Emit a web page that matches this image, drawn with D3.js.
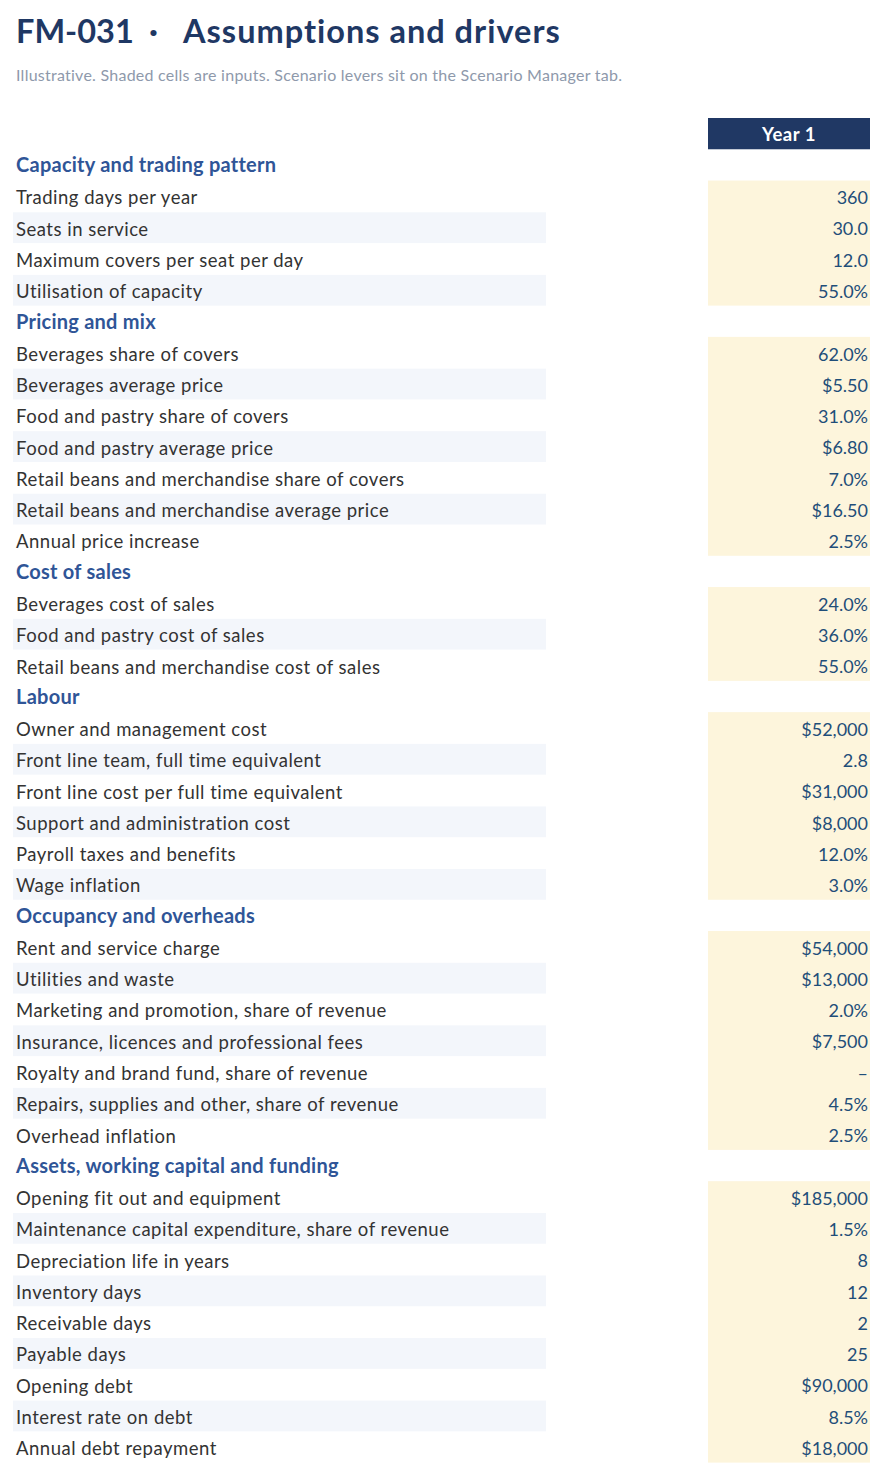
<!DOCTYPE html>
<html><head><meta charset="utf-8">
<script src="https://cdn.jsdelivr.net/npm/d3@7"></script>
<style>
html,body{margin:0;padding:0;background:#fff;}
svg{display:block;font-family:Lato,"Noto Sans",sans-serif;}
</style></head>
<body>
<svg id="c" width="886" height="1474"></svg>
<script>
const titleCode = "FM-031";
const titleSep = "·";
const titleText = "Assumptions and drivers";
const subtitle = "Illustrative. Shaded cells are inputs. Scenario levers sit on the Scenario Manager tab.";
const columnLabels = ["Year 1"];

const sections = [
  "Capacity and trading pattern",
  "Pricing and mix",
  "Cost of sales",
  "Labour",
  "Occupancy and overheads",
  "Assets, working capital and funding"
];
const capacityLabels = ["Trading days per year","Seats in service","Maximum covers per seat per day","Utilisation of capacity"];
const capacityValues = [360, 30.0, 12.0, 0.55];
const capacityFormats = ["int","dec1","dec1","pct1"];

const pricingLabels = ["Beverages share of covers","Beverages average price","Food and pastry share of covers","Food and pastry average price","Retail beans and merchandise share of covers","Retail beans and merchandise average price","Annual price increase"];
const pricingValues = [0.62, 5.50, 0.31, 6.80, 0.07, 16.50, 0.025];
const pricingFormats = ["pct1","usd2","pct1","usd2","pct1","usd2","pct1"];

const cosLabels = ["Beverages cost of sales","Food and pastry cost of sales","Retail beans and merchandise cost of sales"];
const cosValues = [0.24, 0.36, 0.55];
const cosFormats = ["pct1","pct1","pct1"];

const labourLabels = ["Owner and management cost","Front line team, full time equivalent","Front line cost per full time equivalent","Support and administration cost","Payroll taxes and benefits","Wage inflation"];
const labourValues = [52000, 2.8, 31000, 8000, 0.12, 0.03];
const labourFormats = ["usd0","dec1","usd0","usd0","pct1","pct1"];

const occupancyLabels = ["Rent and service charge","Utilities and waste","Marketing and promotion, share of revenue","Insurance, licences and professional fees","Royalty and brand fund, share of revenue","Repairs, supplies and other, share of revenue","Overhead inflation"];
const occupancyValues = [54000, 13000, 0.02, 7500, null, 0.045, 0.025];
const occupancyFormats = ["usd0","usd0","pct1","usd0","pct1","pct1","pct1"];

const assetsLabels = ["Opening fit out and equipment","Maintenance capital expenditure, share of revenue","Depreciation life in years","Inventory days","Receivable days","Payable days","Opening debt","Interest rate on debt","Annual debt repayment"];
const assetsValues = [185000, 0.015, 8, 12, 2, 25, 90000, 0.085, 18000];
const assetsFormats = ["usd0","pct1","int","int","int","int","usd0","pct1","usd0"];

const groups = [
  [capacityLabels, capacityValues, capacityFormats],
  [pricingLabels, pricingValues, pricingFormats],
  [cosLabels, cosValues, cosFormats],
  [labourLabels, labourValues, labourFormats],
  [occupancyLabels, occupancyValues, occupancyFormats],
  [assetsLabels, assetsValues, assetsFormats]
];

const fmt = {
  int: d3.format(",.0f"),
  dec1: d3.format(".1f"),
  pct1: d3.format(".1%"),
  usd2: d3.format("$,.2f"),
  usd0: d3.format("$,.0f")
};

// build rows
const rows = [{type:"header", key:"h"}];
groups.forEach((g, si) => {
  rows.push({type:"section", key:"s"+si, label:sections[si]});
  g[0].forEach((lab, i) => {
    rows.push({type:"data", key:"r"+si+"_"+i, label:lab, value:g[1][i], fmt:g[2][i], stripe: i % 2 === 1, section: si});
  });
});

const svg = d3.select("#c");

// title
const t = svg.append("text").attr("y",43.3)
  .attr("font-size",32.5).attr("font-weight",700).attr("fill","#1f3864");
t.append("tspan").attr("x",16).text(titleCode);
t.append("tspan").attr("x",153.5).attr("text-anchor","middle").text(titleSep);
t.append("tspan").attr("x",183).attr("letter-spacing",1.0).text(titleText);

svg.append("text").attr("x",16).attr("y",80.5)
  .attr("font-size",16).attr("letter-spacing",0.25).attr("fill","#8e99ab")
  .text(subtitle);

const y = d3.scaleBand().domain(rows.map(r=>r.key)).range([118, 118 + rows.length*31.27]).paddingInner(0);
const bh = y.bandwidth();

const colX = d3.scaleBand().domain(columnLabels).range([708, 870]);

// stripes
svg.selectAll("rect.stripe").data(rows.filter(r=>r.type==="data" && r.stripe)).join("rect")
  .attr("class","stripe").attr("x",13).attr("width",533)
  .attr("y",d=>y(d.key)+0.5).attr("height",bh-0.5).attr("fill","#f3f6fb");

// input shading per section
groups.forEach((g, si) => {
  const keys = rows.filter(r=>r.type==="data" && r.section===si).map(r=>r.key);
  const y0 = y(keys[0]), y1 = y(keys[keys.length-1]) + bh;
  svg.append("rect").attr("x",colX("Year 1")).attr("width",colX.bandwidth())
    .attr("y",y0).attr("height",y1-y0).attr("fill","#fdf5dc");
});

// header
svg.append("rect").attr("x",colX("Year 1")).attr("width",colX.bandwidth())
  .attr("y",y("h")).attr("height",bh).attr("fill","#203864");
svg.append("text").attr("x",colX("Year 1")+colX.bandwidth()/2).attr("y",y("h")+bh/2+7)
  .attr("text-anchor","middle").attr("font-size",18.5).attr("letter-spacing",0.5)
  .attr("font-weight",700).attr("fill","#fff")
  .text(columnLabels[0]);

// section labels
svg.selectAll("text.sec").data(rows.filter(r=>r.type==="section")).join("text")
  .attr("class","sec").attr("x",16).attr("y",d=>y(d.key)+bh/2+7.5)
  .attr("font-size",20).attr("letter-spacing",0.25).attr("font-weight",700).attr("fill","#2f5597")
  .text(d=>d.label);

// data labels
const dataRows = rows.filter(r=>r.type==="data");
svg.selectAll("text.lab").data(dataRows).join("text")
  .attr("class","lab").attr("x",16).attr("y",d=>y(d.key)+bh/2+8.3)
  .attr("font-size",18.5).attr("letter-spacing",0.5).attr("fill","#333333")
  .text(d=>d.label);

svg.selectAll("text.val").data(dataRows).join("text")
  .attr("class","val").attr("x",868).attr("y",d=>y(d.key)+bh/2+8)
  .attr("text-anchor","end").attr("font-size",18).attr("fill","#1f4e79")
  .text(d=>d.value==null ? "–" : fmt[d.fmt](d.value));
</script>
</body></html>
